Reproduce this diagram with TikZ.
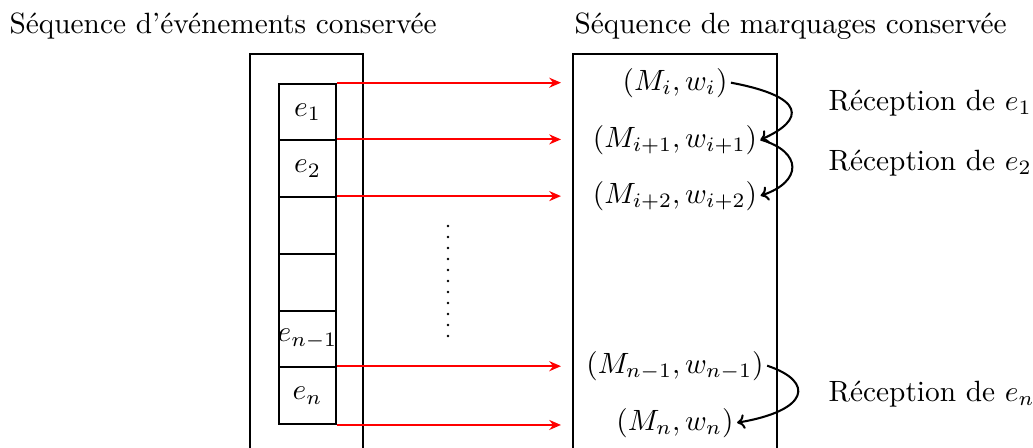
\documentclass[tikz,border=0pt]{standalone}
\usetikzlibrary{arrows.meta}
\begin{document}
\begin{tikzpicture}[x=0.341pt,y=-0.341pt,
  frame/.style={line width=0.7pt},
  cell/.style={draw,line width=0.7pt,minimum width=57*0.341pt,minimum height=56.7*0.341pt,inner sep=0pt,anchor=north west},
  redarrow/.style={red,line width=0.7pt,-{Stealth[length=4pt,width=3.4pt,inset=1.3pt]}},
  recv/.style={line width=0.7pt,-{To[length=2.6pt,width=5pt]}},
  lbl/.style={anchor=base west,inner sep=0pt},
  pair/.style={anchor=base,inner sep=1pt}]
\useasboundingbox (0,0) rectangle (1033,447);
% titles
\node[lbl] (tl) at (9,33) {Séquence d'événements conservée};
\node[lbl] (tr) at (574,33) {Séquence de marquages conservée};
% left frame (open at bottom)
\draw[frame] (250,470) -- (250,54) -- (363,54) -- (363,470);
% right frame
\draw[frame] (573,470) -- (573,54) -- (777,54) -- (777,470);
% cells
\node[cell] (c1) at (278,82.7) {$e_1$};
\node[cell] (c2) at (278,139.4) {$e_2$};
\node[cell] (c3) at (278,196.1) {};
\node[cell] (c4) at (278,252.8) {};
\node[cell] (c5) at (278,309.5) {\makebox[0pt]{$e_{n-1}$}};
\node[cell] (c6) at (278,366.2) {$e_n$};
% arrow target column
\coordinate (tx) at (561,0);
\draw[redarrow] (c1.north east) -- (c1.north east -| tx);
\draw[redarrow] (c2.north east) -- (c2.north east -| tx);
\draw[redarrow] (c3.north east) -- (c3.north east -| tx);
\draw[redarrow] (c6.north east) -- (c6.north east -| tx);
\draw[redarrow] (c6.south east) -- (c6.south east -| tx);
% dots
\coordinate (d1) at (448,226);
\coordinate (d2) at (448,339);
\draw[line width=0.95pt,line cap=round,dash pattern=on 0pt off 11*0.341pt] (d1) -- (d2);
% markings
\node[pair] (m1) at (675,90) {$(M_i,w_i)$};
\node[pair] (m2) at (675,147) {$(M_{i+1},w_{i+1})$};
\node[pair] (m3) at (675,203) {$(M_{i+2},w_{i+2})$};
\node[pair] (mn1) at (675,373) {$(M_{n-1},w_{n-1})$};
\node[pair] (mn) at (675,430) {$(M_n,w_n)$};
% curved arrows
\draw[recv] (m1.east) .. controls +(75,14) and +(45,-20) .. (m2.east);
\draw[recv] (m2.east) .. controls +(42,12) and +(42,-14) .. (m3.east);
\draw[recv] (mn1.east) .. controls +(48,16) and +(72,-12) .. (mn.east);
% reception labels
\node[lbl] (r1) at (828,110) {Réception de $e_1$};
\node[lbl] (r2) at (828,170) {Réception de $e_2$};
\node[lbl] (rn) at (828,401) {Réception de $e_n$};
\end{tikzpicture}
\end{document}
